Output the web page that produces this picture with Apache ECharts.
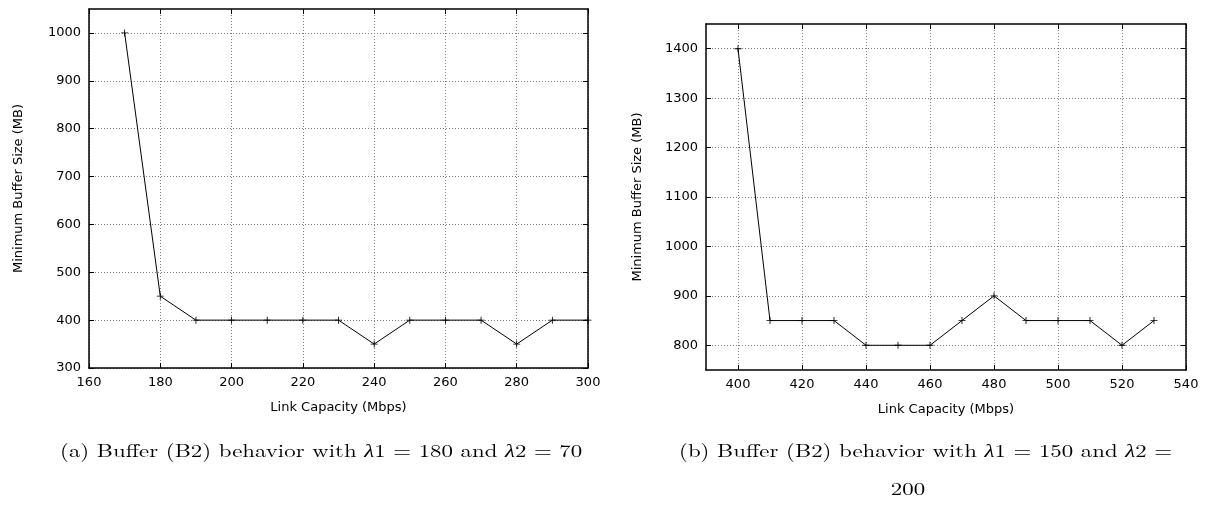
<!DOCTYPE html>
<html><head><meta charset="utf-8">
<script src="https://cdn.jsdelivr.net/npm/echarts@6/dist/echarts.min.js"></script>
<style>html,body{margin:0;padding:0;background:#fff}#c{width:1212px;height:507px}</style>
</head><body><div id="c"></div>
<script>
// Chart (a)
const capA = [170,180,190,200,210,220,230,240,250,260,270,280,290,300];
const bufA = [1000,450,400,400,400,400,400,350,400,400,400,350,400,400];
const xTicksA = [160,180,200,220,240,260,280,300];
const yTicksA = [300,400,500,600,700,800,900,1000];
// Chart (b)
const capB = [400,410,420,430,440,450,460,470,480,490,500,510,520,530];
const bufB = [1400,850,850,850,800,800,800,850,900,850,850,850,800,850];
const xTicksB = [400,420,440,460,480,500,520,540];
const yTicksB = [800,900,1000,1100,1200,1300,1400];

const xName = 'Link Capacity (Mbps)';
const yName = 'Minimum Buffer Size (MB)';
const captionA = ['(a) Buffer (B2) behavior with ', '1 = 180 and ', '2 = 70'];
const captionB = ['(b) Buffer (B2) behavior with ', '1 = 150 and ', '2 ='];
const captionB2 = '200';

const FONT = '"DejaVu Sans", sans-serif';
const SERIF = '"Latin Modern Roman","Liberation Serif",serif';
const plus = 'path://M-5,-0.6H5V0.6H-5Z M-0.6,-5H0.6V5H-0.6Z';

function axisPair(grid, ticks, min, max, isX, name, nameGap) {
  const main = {
    type: 'value', gridIndex: grid, min: min, max: max,
    position: isX ? 'bottom' : 'left',
    name: name, nameLocation: 'middle', nameGap: nameGap,
    nameTextStyle: {fontFamily: FONT, fontSize: 13, color: '#000'},
    axisLine: {show: true, lineStyle: {color: '#000', width: 1.5}},
    axisTick: {show: true, inside: true, length: 5, customValues: ticks, lineStyle: {color: '#000', width: 1}},
    axisLabel: {show: true, customValues: ticks, margin: 8, fontFamily: FONT, fontSize: 13, color: '#000',
                formatter: v => String(v)},
    splitLine: {show: true, lineStyle: {color: '#808080', width: 1, type: [1, 2]}}
  };
  const mirror = {
    type: 'value', gridIndex: grid, min: min, max: max,
    position: isX ? 'top' : 'right',
    axisLine: {show: true, lineStyle: {color: '#000', width: 1.5}},
    axisTick: {show: true, inside: true, length: 5, customValues: ticks, lineStyle: {color: '#000', width: 1}},
    axisLabel: {show: false},
    splitLine: {show: false}
  };
  return [main, mirror];
}

function caption(parts) {
  return '{r|' + parts[0] + '}{i|λ}{r|' + parts[1] + '}{i|λ}{r|' + parts[2] + '}';
}
const rich = {
  r: {fontFamily: SERIF, fontSize: 18, fill: '#000'},
  i: {fontFamily: SERIF, fontSize: 18, fontStyle: 'italic', fill: '#000'}
};
const SX = 1.27;

const chart = echarts.init(document.getElementById('c'), null, {renderer: 'canvas'});
const xa = axisPair(0, xTicksA, 160, 300, true, xName, 33);
const xb = axisPair(1, xTicksB, 390, 540, true, xName, 33);
const ya = axisPair(0, yTicksA, 300, 1050, false, yName, 64);
const yb = axisPair(1, yTicksB, 750, 1450, false, yName, 62);

chart.setOption({
  animation: false,
  backgroundColor: '#fff',
  grid: [
    {left: 89, top: 9, width: 499, height: 359, show: false},
    {left: 706, top: 24, width: 480, height: 346, show: false}
  ],
  xAxis: [xa[0], xa[1], xb[0], xb[1]],
  yAxis: [ya[0], ya[1], yb[0], yb[1]],
  series: [
    {type: 'line', xAxisIndex: 0, yAxisIndex: 0, data: capA.map((c, i) => [c, bufA[i]]),
     symbol: plus, symbolSize: 7, showAllSymbol: true,
     lineStyle: {color: '#000', width: 1}, itemStyle: {color: '#000'}},
    {type: 'line', xAxisIndex: 2, yAxisIndex: 2, data: capB.map((c, i) => [c, bufB[i]]),
     symbol: plus, symbolSize: 7, showAllSymbol: true,
     lineStyle: {color: '#000', width: 1}, itemStyle: {color: '#000'}}
  ],
  graphic: [
    {type: 'text', x: 60, y: 451, scaleX: SX, style: {text: caption(captionA), rich: rich, x: 0, y: 0, align: 'left', verticalAlign: 'middle'}},
    {type: 'text', x: 679, y: 451, scaleX: SX, style: {text: caption(captionB), rich: rich, x: 0, y: 0, align: 'left', verticalAlign: 'middle'}},
    {type: 'text', x: 908, y: 489, scaleX: SX, style: {text: captionB2, font: '18px ' + SERIF, fill: '#000', x: 0, y: 0, align: 'center', verticalAlign: 'middle'}}
  ]
});
</script></body></html>
